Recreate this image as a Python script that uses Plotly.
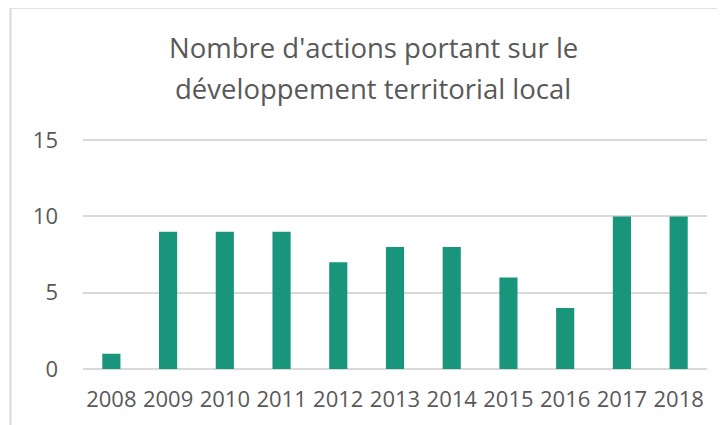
import plotly.graph_objects as go

years = ["2008", "2009", "2010", "2011", "2012", "2013", "2014", "2015", "2016", "2017", "2018"]
actions = [1, 9, 9, 9, 7, 8, 8, 6, 4, 10, 10]
title_lines = ["Nombre d'actions portant sur le", "développement territorial local"]
y_ticks = [0, 5, 10, 15]

# page has an 8px body margin; figure sized to fill the remaining view
OFF = 8
W, H = 717, 417
L, R, T, B = 75, 18, 131, 55.5
pw = W - L - R
ph = H - T - B

def px_x(x):
    return (x - OFF - L) / pw

def px_y(y):
    return (H - B - (y - OFF)) / ph

font_family = "Open Sans, Lato, sans-serif"
text_color = "#595959"
grid_color = "#d9d9d9"

fig = go.Figure(go.Bar(
    x=years, y=actions,
    marker=dict(color="#18957A", line=dict(width=0)),
))

fig.update_layout(
    width=W, height=H,
    margin=dict(l=L, r=R, t=T, b=B, pad=0),
    paper_bgcolor="white", plot_bgcolor="white",
    bargap=0.68,
    showlegend=False,
    font=dict(family=font_family, color=text_color),
    xaxis=dict(
        type="category",
        showgrid=False, showline=False, zeroline=False,
        tickfont=dict(size=22, color=text_color),
        ticks="", ticklabelstandoff=15,
    ),
    yaxis=dict(
        range=[0, 15.07], tickvals=y_ticks,
        showgrid=True, gridcolor=grid_color, gridwidth=1.5,
        zeroline=True, zerolinecolor=grid_color, zerolinewidth=1.5,
        showline=False,
        tickfont=dict(size=22, color=text_color),
        ticks="", ticklabelstandoff=24,
    ),
)

centers = [47, 88]
for line, cy in zip(title_lines, centers):
    fig.add_annotation(
        text=line, xref="paper", yref="paper",
        x=px_x(373), y=px_y(cy), xanchor="center", yanchor="middle",
        showarrow=False, font=dict(size=27.5, color=text_color, family=font_family),
    )

# chart frame (left and top edges visible)
fig.add_shape(type="line", xref="paper", yref="paper",
              x0=px_x(10.5), x1=px_x(10.5), y0=px_y(440), y1=px_y(7.5),
              line=dict(color=grid_color, width=2))
fig.add_shape(type="line", xref="paper", yref="paper",
              x0=px_x(10.5), x1=px_x(740), y0=px_y(7.5), y1=px_y(7.5),
              line=dict(color=grid_color, width=2))

fig.write_html("out.html")
